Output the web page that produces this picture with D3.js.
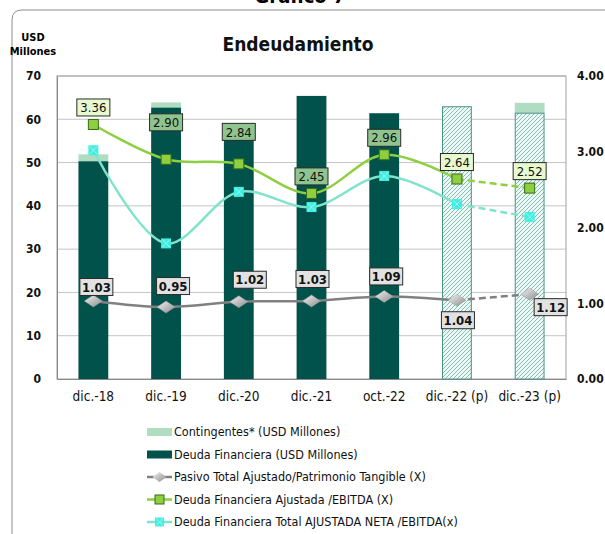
<!DOCTYPE html>
<html>
<head>
<meta charset="utf-8">
<script src="https://cdn.jsdelivr.net/npm/d3@7"></script>
<style>
  body { margin: 0; background: #fff; }
  svg { font-family: "DejaVu Sans Condensed", "DejaVu Sans", sans-serif; }
</style>
</head>
<body>
<div id="chart"></div>
<script>
const width = 605, height = 534,
    margin = { top: 76, bottom: 155, left: 57, right: 39 };

// data
const categories = ["dic.-18", "dic.-19", "dic.-20", "dic.-21", "oct.-22", "dic.-22 (p)", "dic.-23 (p)"];
const projected = [false, false, false, false, false, true, true];
const deudaFinanciera = [50.3, 62.7, 58.5, 65.4, 61.4, 62.9, 61.4];
const contingentes = [1.6, 1.2, 0, 0, 0, 0, 2.4];
const pasivoPatrimonio = [1.03, 0.95, 1.02, 1.03, 1.09, 1.04, 1.12];
const deudaAjEbitda = [3.36, 2.90, 2.84, 2.45, 2.96, 2.64, 2.52];
const deudaNetaEbitda = [3.02, 1.79, 2.47, 2.27, 2.68, 2.31, 2.14];
const leftTicks = [0, 10, 20, 30, 40, 50, 60, 70];
const rightTicks = [0, 1, 2, 3, 4];

// label offsets (layout only)
const greenLabelDy = [-17, -37, -32, -17, -17, -17, -17];
const greyLabelDx = [3, 7, 11, 1, 2, 1, 21];
const greyLabelDy = [-14, -21, -22, -22, -20, 20, 13];

const colDeuda = "#00524a", colCont = "#b0dcc2", colHatch = "#4a9488";
const colGreen = "#8dcf3f", colCyan = "#80e3cc", colGrey = "#808080";

const svg = d3.select("#chart").append("svg")
    .attr("width", width).attr("height", height);

const defs = svg.append("defs");
const pat = defs.append("pattern")
    .attr("id", "hatch").attr("patternUnits", "userSpaceOnUse")
    .attr("width", 4).attr("height", 4);
pat.append("rect").attr("width", 4).attr("height", 4).attr("fill", "#eef8f5");
pat.append("path").attr("d", "M-1,1 l2,-2 M0,4 l4,-4 M3,5 l2,-2")
    .attr("stroke", "#6aafa2").attr("stroke-width", 0.8);
const grad = defs.append("linearGradient").attr("id", "dia")
    .attr("x1", 0).attr("y1", 0).attr("x2", 1).attr("y2", 1);
grad.append("stop").attr("offset", "0%").attr("stop-color", "#f4f4f4");
grad.append("stop").attr("offset", "100%").attr("stop-color", "#8a8a8a");

// outer frame
svg.append("path")
    .attr("d", "M12,540 L12,20 Q12,10 22,10 L610,10")
    .attr("fill", "none").attr("stroke", "#8c8c8c").attr("stroke-width", 1);

svg.append("text").attr("x", 300).attr("y", 3).attr("text-anchor", "middle")
    .attr("font-size", 20).attr("font-weight", "bold").text("Gráfico 7");

svg.append("text").attr("x", 298).attr("y", 51).attr("text-anchor", "middle")
    .attr("font-size", 19).attr("font-weight", "bold").attr("fill", "#111")
    .text("Endeudamiento");
svg.append("text").attr("x", 33).attr("y", 41).attr("text-anchor", "middle")
    .attr("font-size", 11).attr("font-weight", "bold").text("USD");
svg.append("text").attr("x", 33).attr("y", 55).attr("text-anchor", "middle")
    .attr("font-size", 11).attr("font-weight", "bold").text("Millones");

const x = d3.scaleBand().domain(categories)
    .range([margin.left, width - margin.right])
    .paddingInner(0.59).paddingOuter(0.295);
const y = d3.scaleLinear().domain([0, 70]).range([height - margin.bottom, margin.top]);
const y2 = d3.scaleLinear().domain([0, 4]).range([height - margin.bottom, margin.top]);
const cx = i => x(categories[i]) + x.bandwidth() / 2;

// gridlines
svg.append("g").selectAll("line").data(leftTicks.slice(1))
    .join("line")
    .attr("x1", margin.left).attr("x2", width - margin.right)
    .attr("y1", d => y(d)).attr("y2", d => y(d))
    .attr("stroke", "#c4c4c4").attr("stroke-width", 1);

// plot frame
svg.append("rect")
    .attr("x", margin.left).attr("y", margin.top)
    .attr("width", width - margin.right - margin.left)
    .attr("height", height - margin.bottom - margin.top)
    .attr("fill", "none").attr("stroke", "#a0a0a0");

// axes
const yAxisL = svg.append("g").attr("transform", `translate(${margin.left},0)`)
    .call(d3.axisLeft(y).tickValues(leftTicks).tickSize(0).tickPadding(16));
yAxisL.select(".domain").attr("stroke", "#888");
yAxisL.selectAll("text").attr("font-size", 12).attr("font-weight", "bold")
    .attr("fill", "#111").attr("font-family", "DejaVu Sans Condensed, DejaVu Sans");

const yAxisR = svg.append("g").attr("transform", `translate(${width - margin.right},0)`)
    .call(d3.axisRight(y2).tickValues(rightTicks).tickFormat(d3.format(".2f")).tickSize(0).tickPadding(11));
yAxisR.select(".domain").remove();
yAxisR.selectAll("text").attr("font-size", 12).attr("font-weight", "bold")
    .attr("fill", "#111").attr("font-family", "DejaVu Sans Condensed, DejaVu Sans");

const xAxis = svg.append("g").attr("transform", `translate(0,${height - margin.bottom})`)
    .call(d3.axisBottom(x).tickSize(0).tickPadding(12));
xAxis.select(".domain").attr("stroke", "#888");
xAxis.selectAll("text").attr("font-size", 13.5).attr("fill", "#111")
    .attr("font-family", "DejaVu Sans Condensed, DejaVu Sans");

// bars
const barData = categories.map((c, i) => ({
    c, i, deuda: deudaFinanciera[i], cont: contingentes[i], p: projected[i]
}));
svg.append("g").selectAll("rect.cont").data(barData.filter(d => d.cont > 0))
    .join("rect").attr("class", "cont")
    .attr("x", d => x(d.c)).attr("width", x.bandwidth())
    .attr("y", d => y(d.deuda + d.cont))
    .attr("height", d => y(d.deuda) - y(d.deuda + d.cont))
    .attr("fill", colCont);
svg.append("g").selectAll("rect.deuda").data(barData)
    .join("rect").attr("class", "deuda")
    .attr("x", d => x(d.c) + (d.p ? 0.5 : 0))
    .attr("width", d => x.bandwidth() - (d.p ? 1 : 0))
    .attr("y", d => y(d.deuda))
    .attr("height", d => y(0) - y(d.deuda))
    .attr("fill", d => d.p ? "url(#hatch)" : colDeuda)
    .attr("stroke", d => d.p ? colHatch : "none")
    .attr("stroke-width", 1);

// lines
function drawSeries(values, color, width) {
    const pts = values.map((v, i) => [cx(i), y2(v)]);
    const solid = d3.line().curve(d3.curveCatmullRom.alpha(0.5));
    svg.append("path").attr("d", solid(pts.slice(0, 6)))
        .attr("fill", "none").attr("stroke", color).attr("stroke-width", width);
    svg.append("path").attr("d", d3.line()(pts.slice(5)))
        .attr("fill", "none").attr("stroke", color).attr("stroke-width", width)
        .attr("stroke-dasharray", "7,4");
    return pts;
}

const greyPts = drawSeries(pasivoPatrimonio, colGrey, 2.5);
const cyanPts = drawSeries(deudaNetaEbitda, colCyan, 2.5);
const greenPts = drawSeries(deudaAjEbitda, colGreen, 2.5);

// markers
svg.append("g").selectAll("path").data(greyPts).join("path")
    .attr("transform", d => `translate(${d[0]},${d[1]})`)
    .attr("d", "M0,-6 L9,0 L0,6 L-9,0 Z")
    .attr("fill", "url(#dia)").attr("stroke", "#9a9a9a").attr("stroke-width", 0.5);

const cyanG = svg.append("g").selectAll("g").data(cyanPts).join("g")
    .attr("transform", d => `translate(${d[0]},${d[1]})`);
cyanG.append("rect").attr("x", -5).attr("y", -5).attr("width", 10).attr("height", 10)
    .attr("fill", "#3ef0e4");
cyanG.append("path").attr("d", "M-4,-4 L4,4 M-4,4 L4,-4")
    .attr("stroke", "#a8f0ea").attr("stroke-width", 1);

svg.append("g").selectAll("rect").data(greenPts).join("rect")
    .attr("x", d => d[0] - 5).attr("y", d => d[1] - 5)
    .attr("width", 10).attr("height", 10)
    .attr("fill", colGreen).attr("stroke", "#3a6a1c").attr("stroke-width", 1);

// data labels
function label(px, py, txt, fill, bold) {
    const g = svg.append("g").attr("transform", `translate(${px},${py})`);
    const w = 33, h = 17;
    g.append("rect").attr("x", -w / 2).attr("y", -h / 2).attr("width", w).attr("height", h)
        .attr("fill", fill).attr("stroke", "#2a2a2a").attr("stroke-width", 1);
    g.append("text").attr("text-anchor", "middle").attr("dy", "0.36em")
        .attr("font-size", 13).attr("font-weight", bold ? "bold" : "normal")
        .attr("fill", "#111").text(txt);
}
greenPts.forEach((p, i) => {
    const onDark = !projected[i] && y2(deudaAjEbitda[i]) + greenLabelDy[i] > y(deudaFinanciera[i]);
    label(p[0], p[1] + greenLabelDy[i], d3.format(".2f")(deudaAjEbitda[i]),
        onDark ? "#8fc48e" : "#e9f9cf", false);
});
greyPts.forEach((p, i) => {
    label(p[0] + greyLabelDx[i], p[1] + greyLabelDy[i], d3.format(".2f")(pasivoPatrimonio[i]),
        "#e2e2e2", true);
});

// legend
const legendItems = [
    { name: "Contingentes* (USD Millones)", type: "bar", color: colCont },
    { name: "Deuda Financiera (USD Millones)", type: "bar", color: colDeuda },
    { name: "Pasivo Total Ajustado/Patrimonio Tangible (X)", type: "grey" },
    { name: "Deuda Financiera Ajustada /EBITDA (X)", type: "green" },
    { name: "Deuda Financiera Total AJUSTADA NETA /EBITDA(x)", type: "cyan" }
];
const lg = svg.append("g").selectAll("g").data(legendItems).join("g")
    .attr("transform", (d, i) => `translate(147,${432 + i * 22.5})`);
lg.each(function (d) {
    const g = d3.select(this);
    if (d.type === "bar") {
        g.append("rect").attr("x", 0).attr("y", -4).attr("width", 25).attr("height", 8)
            .attr("fill", d.color);
    } else {
        const c = d.type === "grey" ? colGrey : d.type === "green" ? colGreen : colCyan;
        g.append("line").attr("x1", 0).attr("x2", 25).attr("stroke", c).attr("stroke-width", 2.5);
        if (d.type === "grey") {
            g.append("path").attr("transform", "translate(12.5,0)")
                .attr("d", "M0,-5 L7,0 L0,5 L-7,0 Z").attr("fill", "url(#dia)");
        } else if (d.type === "green") {
            g.append("rect").attr("x", 8).attr("y", -4.5).attr("width", 9).attr("height", 9)
                .attr("fill", colGreen).attr("stroke", "#3a6a1c");
        } else {
            g.append("rect").attr("x", 8).attr("y", -4.5).attr("width", 9).attr("height", 9)
                .attr("fill", "#3ef0e4");
            g.append("path").attr("d", "M9,-3.5 L16,3.5 M9,3.5 L16,-3.5")
                .attr("stroke", "#a8f0ea");
        }
    }
    g.append("text").attr("x", 27).attr("dy", "0.35em").attr("font-size", 12.5)
        .attr("fill", "#111").text(d.name);
});
</script>
</body>
</html>
